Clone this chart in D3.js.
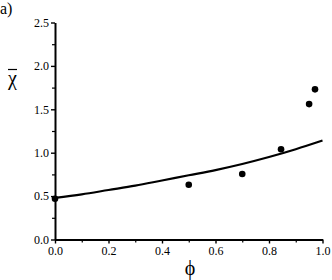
<!DOCTYPE html>
<html><head><meta charset="utf-8">
<script src="https://cdn.jsdelivr.net/npm/d3@7"></script>
<style>body{margin:0;background:#fff}svg{display:block}svg text{font-family:'Liberation Serif','Times New Roman',Times,serif !important;fill:#000}</style>
</head><body><svg id="c" width="332" height="280"></svg>
<script>
const pointPhi = [0.0, 0.5, 0.7, 0.845, 0.95, 0.972];
const pointChi = [0.47, 0.63, 0.755, 1.04, 1.56, 1.73];
const curvePhi = [0.0, 0.1, 0.2, 0.3, 0.4, 0.5, 0.6, 0.7, 0.8, 0.9, 1.0];
const curveChi = [0.48, 0.52, 0.57, 0.62, 0.68, 0.74, 0.80, 0.87, 0.95, 1.04, 1.14];
const xTicks = [0.0, 0.2, 0.4, 0.6, 0.8, 1.0];
const xMinor = [0.1, 0.3, 0.5, 0.7, 0.9];
const yTicks = [0.0, 0.5, 1.0, 1.5, 2.0, 2.5];
const yMinor = [0.25, 0.75, 1.25, 1.75, 2.25];

const svg = d3.select("#c");
const x = d3.scaleLinear().domain([0, 1]).range([55, 322.5]);
const y = d3.scaleLinear().domain([0, 2.5]).range([239.5, 22.5]);

svg.append("g").attr("transform","translate(0,239.5)")
  .call(d3.axisBottom(x).tickValues(xMinor).tickSize(3).tickFormat(""))
  .call(g=>g.select(".domain").remove())
  .selectAll("line").attr("stroke-width",1.2);
svg.append("g").attr("transform","translate(55,0)")
  .call(d3.axisLeft(y).tickValues(yMinor).tickSize(3).tickFormat(""))
  .call(g=>g.select(".domain").remove())
  .selectAll("line").attr("stroke-width",1.2);

const gx = svg.append("g").attr("transform","translate(0,239.5)")
  .call(d3.axisBottom(x).tickValues(xTicks).tickSize(4).tickSizeOuter(0).tickPadding(3).tickFormat(d3.format(".1f")));
gx.attr("font-family",null).attr("font-size",null);
gx.select(".domain").attr("stroke-width",2);
gx.selectAll("line").attr("stroke-width",1.4);
gx.selectAll("text").attr("font-size","12px");

const gy = svg.append("g").attr("transform","translate(55,0)")
  .call(d3.axisLeft(y).tickValues(yTicks).tickSize(4).tickSizeOuter(0).tickPadding(2).tickFormat(d3.format(".1f")));
gy.attr("font-family",null).attr("font-size",null);
gy.select(".domain").attr("stroke-width",2);
gy.selectAll("line").attr("stroke-width",1.4);
gy.selectAll("text").attr("font-size","12px");

const line = d3.line().x((d,i)=>x(curvePhi[i])).y(d=>y(d)).curve(d3.curveMonotoneX);
svg.append("path").attr("d", line(curveChi)).attr("fill","none").attr("stroke","#000").attr("stroke-width",2.2);

svg.append("g").selectAll("circle").data(pointChi).join("circle")
  .attr("cx",(d,i)=>x(pointPhi[i])).attr("cy",d=>y(d)).attr("r",3.3).attr("fill","#000");

svg.append("text").attr("x",0).attr("y",14).attr("font-size","16px").text("a)");
svg.append("text").attr("x",12.5).attr("y",85).attr("text-anchor","middle").attr("font-size","20px").text("\u03C7");
svg.append("line").attr("x1",8).attr("x2",17).attr("y1",69.5).attr("y2",69.5).attr("stroke","#000").attr("stroke-width",1.2);
svg.append("text").attr("x",190).attr("y",275).attr("text-anchor","middle").attr("font-size","20px").text("\u03D5");
</script></body></html>
